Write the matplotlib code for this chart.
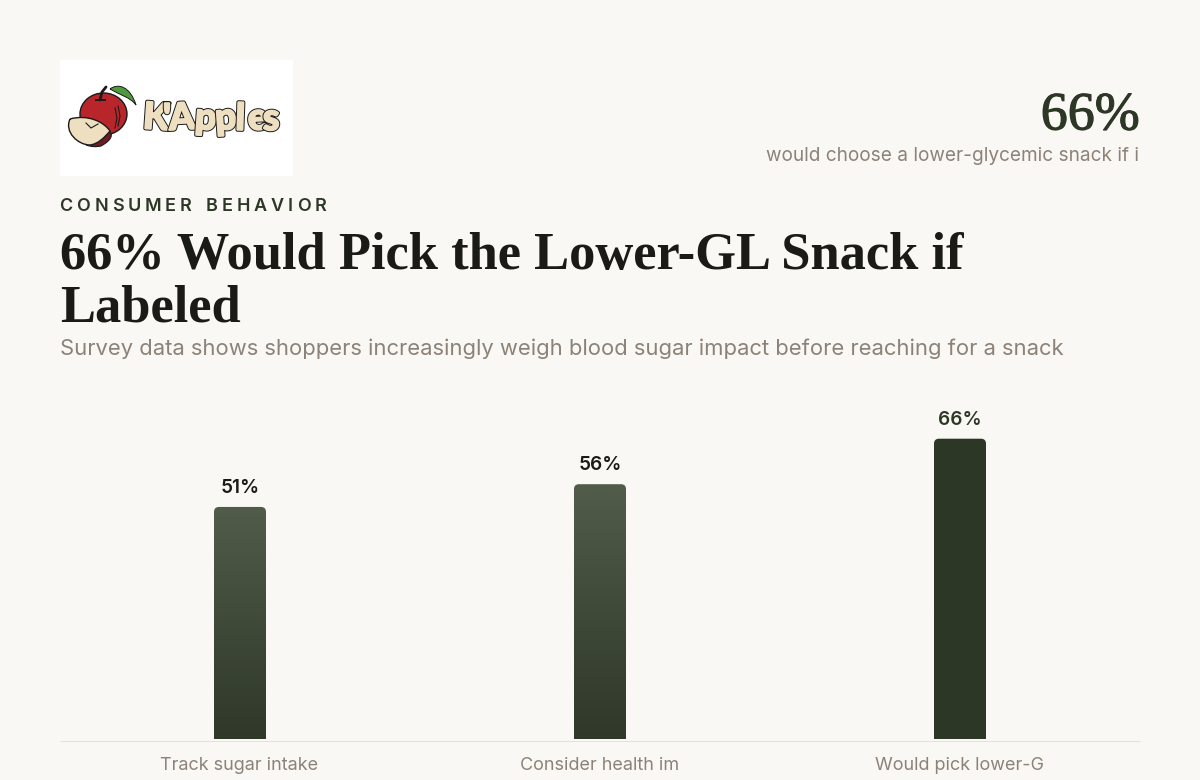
import numpy as np
import matplotlib
matplotlib.use('Agg')
import matplotlib.pyplot as plt
import matplotlib.patheffects as pe
from matplotlib.colors import LinearSegmentedColormap
from matplotlib.patches import Ellipse, FancyBboxPatch, PathPatch, Rectangle
from matplotlib.path import Path

categories = ['Track sugar intake', 'Consider health im', 'Would pick lower-G']
values = [51, 56, 66]
value_labels = ['51%', '56%', '66%']
bar_top_colors = ['#525c4a', '#525c4a', '#2d3726']
bar_bottom_colors = ['#2f3829', '#2f3829', '#2d3726']

BG = '#faf8f4'
DARK = '#1a1a16'
GREEN = '#2d3726'
MUTED = '#8c8278'
RULE = '#e5e1d8'
INK = '#1a1a1a'
CREAM = '#eedfc0'
SANS = 'Inter'
SERIF = 'Liberation Serif'

W, H = 1200, 780
PX_PER_UNIT = 4.55
BASE_Y = 739
Y_MAX = 80

plt.rcParams['font.family'] = [SANS, 'DejaVu Sans']
fig = plt.figure(figsize=(12, 7.8), dpi=100, facecolor=BG)


def px(size):
    return size * 72 / 100


def put(x, y, s, size, color, **kw):
    kw.setdefault('va', 'baseline')
    return fig.text(x / W, 1 - y / H, s, fontsize=px(size), color=color, **kw)


def spaced(x, y, s, size, color, tracking, **kw):
    # letter spacing by hand, text has no tracking option
    r = fig.canvas.get_renderer()
    for ch in s:
        t = put(x, y, ch, size, color, **kw)
        if ch == ' ':
            t.set_text('n')
            adv = t.get_window_extent(r).width * 0.6
            t.set_text('')
        else:
            adv = t.get_window_extent(r).width
        x += adv + tracking


def blob(points, **kw):
    # closed cubic outline: start point then triples of control points
    codes = [Path.MOVETO] + [Path.CURVE4] * (len(points) - 1)
    return PathPatch(Path(points, codes), **kw)


# logo block, drawn in pixel units
logo = fig.add_axes([60 / W, 1 - 176 / H, 233 / W, 116 / H])
logo.set_xlim(60, 293)
logo.set_ylim(176, 60)
logo.axis('off')
logo.add_patch(Rectangle((60, 60), 233, 116, fc='white', ec='none'))
logo.add_patch(Ellipse((103.5, 114), 47, 42, fc='#b8262c', ec=INK, lw=1))
logo.plot([118, 120, 118], [106, 116, 126], color=INK, lw=0.8)
logo.plot([115, 117, 115], [108, 118, 128], color=INK, lw=0.8)
logo.plot([100, 102, 106], [100, 92, 87], color=INK, lw=2, solid_capstyle='round')
logo.plot([96, 105], [100, 100], color=INK, lw=1.4)
logo.add_patch(blob([(110, 89), (118, 83), (130, 86), (136, 105),
                     (130, 97), (120, 95), (110, 89)], fc='#4f9a3c', ec=INK, lw=0.7))
logo.add_patch(blob([(108, 130), (114, 134), (112, 140), (101, 146),
                     (96, 147), (92, 147), (86, 145),
                     (96, 140), (104, 135), (108, 130)], fc='#6d1c22', ec=INK, lw=0.8))
logo.add_patch(blob([(70, 119), (88, 114), (104, 122), (110, 131),
                     (104, 138), (98, 144), (90, 145),
                     (78, 145), (64, 132), (70, 119)], fc=CREAM, ec=INK, lw=1))
logo.plot([86, 91, 98], [123, 128, 124], color=INK, lw=0.8)
logo_letters = ["K", "'", "A", "p", "p", "l", "e", "s"]
logo_x = [142, 163, 168, 194, 214, 235, 247, 263]
logo_rot = [-4, 0, 3, -4, 4, -2, 3, 0]
logo_stroke = [pe.Stroke(linewidth=2.8, foreground=INK), pe.Stroke(linewidth=1.4, foreground=CREAM), pe.Normal()]
for ch, lx, rot in zip(logo_letters, logo_x, logo_rot):
    logo.text(lx, 130, ch, fontsize=px(37), fontfamily='Lato', fontweight='black', color=CREAM,
              rotation=rot, ha='left', va='baseline', path_effects=logo_stroke)

# header text, the big figure gets a thin stroke for weight
put(1140, 129.5, '66%', 54, GREEN, family=SERIF, ha='right',
    path_effects=[pe.withStroke(linewidth=0.8, foreground=GREEN)])
put(1139.5, 161, 'would choose a lower-glycemic snack if i', 19, MUTED, ha='right')
spaced(59.5, 211, 'CONSUMER BEHAVIOR', 18, GREEN, 3.85, fontweight='semibold')
put(60, 268.5, '66% Would Pick the Lower-GL Snack if', 52.5, DARK, family=SERIF, fontweight='bold')
put(60, 322, 'Labeled', 52.5, DARK, family=SERIF, fontweight='bold')
put(60, 355, 'Survey data shows shoppers increasingly weigh blood sugar impact before reaching for a snack',
    22, MUTED)

# bars
ax_h = Y_MAX * PX_PER_UNIT
ax = fig.add_axes([60 / W, 1 - BASE_Y / H, 1080 / W, ax_h / H])
ax.set_facecolor('none')
x_pos = np.arange(len(values))
bar_w = 52 / 360
round_px = 5
for x, v, label, c_top, c_bot in zip(x_pos, values, value_labels, bar_top_colors, bar_bottom_colors):
    cmap = LinearSegmentedColormap.from_list('bar', [c_top, c_bot])
    img = ax.imshow(np.linspace(0, 1, 256).reshape(-1, 1), cmap=cmap, aspect='auto',
                    extent=(x - bar_w / 2, x + bar_w / 2, 0, v), origin='upper', zorder=2)
    # square foot: the rounded box runs below the baseline and gets cut off there
    r = round_px / 360
    clip = FancyBboxPatch((x - bar_w / 2 + r, -5), bar_w - 2 * r, v + 5 - r * 360 / PX_PER_UNIT,
                          boxstyle=f'round,pad={r},rounding_size={r}',
                          mutation_aspect=360 / PX_PER_UNIT, transform=ax.transData,
                          fc='none', ec='none')
    ax.add_patch(clip)
    img.set_clip_path(clip)
    ax.annotate(label, (x, v), xytext=(0, px(19)), textcoords='offset points', ha='center', va='center',
                fontsize=px(19), fontweight='semibold', color=GREEN if v == max(values) else DARK)

ax.set_xlim(-0.5, len(values) - 0.5)
ax.set_ylim(0, Y_MAX)
for side in ['top', 'left', 'right']:
    ax.spines[side].set_visible(False)
ax.spines['bottom'].set_position(('outward', px(2)))
ax.spines['bottom'].set_color(RULE)
ax.spines['bottom'].set_linewidth(px(1))
ax.spines['bottom'].set_capstyle('butt')
# ticks go after the spine move, which resets them
ax.set_yticks([])
ax.set_xticks(x_pos - 0.7 / 360, categories, fontsize=px(18), color=MUTED, va='baseline')
ax.tick_params(axis='x', length=0, pad=px(29))

fig.savefig('out.png', dpi=100, facecolor=BG)
